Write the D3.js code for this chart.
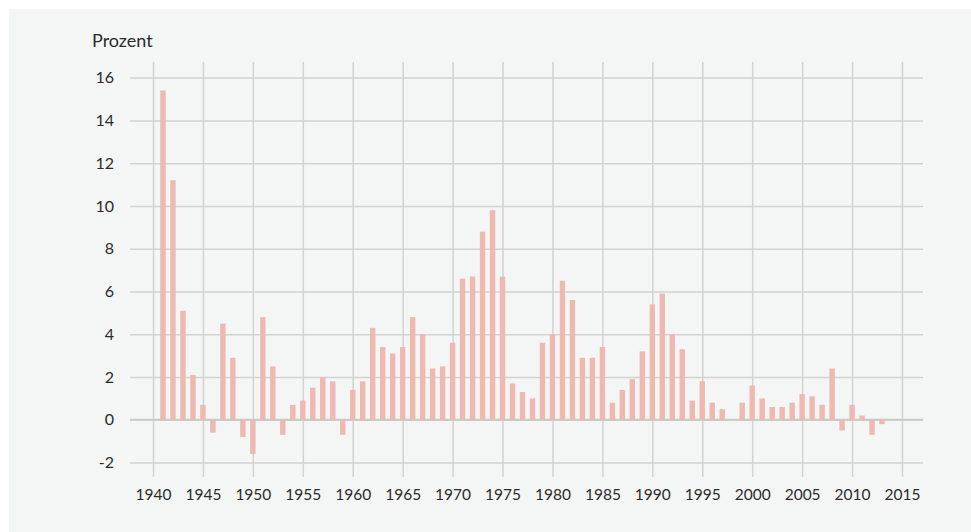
<!DOCTYPE html>
<html>
<head>
<meta charset="utf-8">
<script src="https://cdn.jsdelivr.net/npm/d3@7/dist/d3.min.js"></script>
<style>
  body { margin: 0; background: #ffffff; }
  svg text { font-family: Lato, "Open Sans", sans-serif; fill: #2b2b2b; }
</style>
</head>
<body>
<svg id="chart" width="971" height="532"></svg>
<script>
// Teuerung in Prozent, 1941-2013
const years = d3.range(1941, 2014);
const values = [
    15.4, 11.2, 5.1, 2.1, 0.7, -0.6, 4.5, 2.9, -0.8, -1.6,
    4.8, 2.5, -0.7, 0.7, 0.9, 1.5, 2.0, 1.8, -0.7, 1.4,
    1.8, 4.3, 3.4, 3.1, 3.4, 4.8, 4.0, 2.4, 2.5, 3.6,
    6.6, 6.7, 8.8, 9.8, 6.7, 1.7, 1.3, 1.0, 3.6, 4.0,
    6.5, 5.6, 2.9, 2.9, 3.4, 0.8, 1.4, 1.9, 3.2, 5.4,
    5.9, 4.0, 3.3, 0.9, 1.8, 0.8, 0.5, 0.0, 0.8, 1.6,
    1.0, 0.6, 0.6, 0.8, 1.2, 1.1, 0.7, 2.4, -0.5, 0.7,
    0.2, -0.7, -0.2
];
const yearTicks = d3.range(1940, 2016, 5);
const valueTicks = d3.range(-2, 17, 2);

const svg = d3.select("#chart");

svg.append("rect")
    .attr("x", 9)
    .attr("y", 9)
    .attr("width", 971 - 9)
    .attr("height", 532 - 9)
    .attr("fill", "#f4f5f5");

const x = d3.scaleLinear().domain([1940, 2015]).range([153, 902]);
const y = d3.scaleLinear().domain([-2, 16]).range([462.6, 77.6]);

// horizontal grid + y labels
const yAxis = d3.axisLeft(y)
    .tickValues(valueTicks)
    .tickSize(-(923 - 130))
    .tickPadding(16)
    .tickFormat(d => String(d));

svg.append("g")
    .attr("transform", "translate(130,0)")
    .call(yAxis)
    .call(g => g.select(".domain").remove())
    .call(g => g.selectAll("line").attr("stroke", "#d2d3d3").attr("stroke-width", 1.5))
    .call(g => g.selectAll("text").attr("font-size", 16).attr("fill", "#2b2b2b"));

// vertical grid + x labels
const xAxis = d3.axisBottom(x)
    .tickValues(yearTicks)
    .tickSize(-(477 - 62))
    .tickPadding(12)
    .tickFormat(d => String(d));

svg.append("g")
    .attr("transform", "translate(0,477)")
    .call(xAxis)
    .call(g => g.select(".domain").remove())
    .call(g => g.selectAll("line").attr("stroke", "#d2d3d3").attr("stroke-width", 1.5))
    .call(g => g.selectAll("text").attr("font-size", 15.5).attr("fill", "#2b2b2b"));

// zero line
svg.append("line")
    .attr("x1", 130).attr("x2", 923)
    .attr("y1", y(0)).attr("y2", y(0))
    .attr("stroke", "#c9caca")
    .attr("stroke-width", 2);

// bars
const barW = 5.4;
svg.append("g")
    .selectAll("rect")
    .data(years.map((yr, i) => ({ yr: yr, v: values[i] })))
    .enter()
    .append("rect")
    .attr("x", d => x(d.yr) - barW / 2)
    .attr("y", d => y(Math.max(0, d.v)))
    .attr("width", barW)
    .attr("height", d => Math.abs(y(d.v) - y(0)))
    .attr("fill", "#edb9b0");

svg.append("text")
    .attr("x", 92)
    .attr("y", 47)
    .attr("font-size", 18)
    .text("Prozent");
</script>
</body>
</html>
